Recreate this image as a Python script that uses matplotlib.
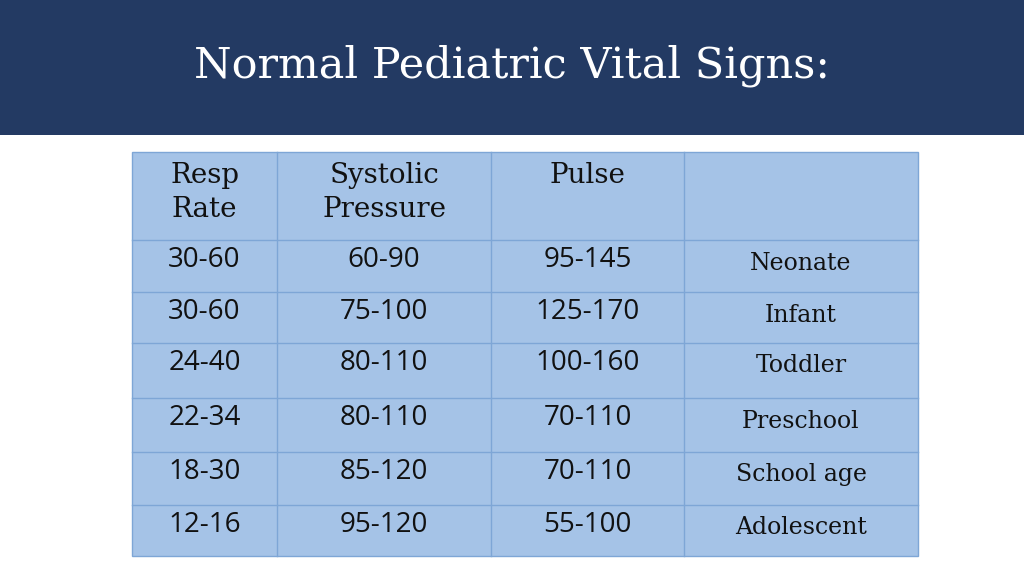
import matplotlib
matplotlib.use("Agg")
import matplotlib.pyplot as plt
from matplotlib.patches import Rectangle

title = "Normal Pediatric Vital Signs:"
headers = ["Resp\nRate", "Systolic\nPressure", "Pulse", ""]
resp = ["30-60", "30-60", "24-40", "22-34", "18-30", "12-16"]
systolic = ["60-90", "75-100", "80-110", "80-110", "85-120", "95-120"]
pulse = ["95-145", "125-170", "100-160", "70-110", "70-110", "55-100"]
groups = ["Neonate", "Infant", "Toddler", "Preschool", "School age", "Adolescent"]

col_edges = [132, 277, 491, 684, 918]
row_edges = [152, 240, 292, 343, 398, 452, 505, 556]

fig = plt.figure(figsize=(10.24, 5.75), dpi=100)
ax = fig.add_axes([0, 0, 1, 1])
ax.set_xlim(0, 1024); ax.set_ylim(575, 0); ax.axis("off")

ax.add_patch(Rectangle((0, 0), 1024, 135, color="#233A63", lw=0))
ax.text(512, 66, title, ha="center", va="center", color="white",
        fontsize=31, family="DejaVu Serif")

ax.add_patch(Rectangle((col_edges[0], row_edges[0]), col_edges[-1]-col_edges[0],
                       row_edges[-1]-row_edges[0], facecolor="#A5C3E7",
                       edgecolor="#7EA6D6", lw=1))
for x in col_edges[1:-1]:
    ax.plot([x, x], [row_edges[0], row_edges[-1]], color="#7EA6D6", lw=1)
for y in row_edges[1:-1]:
    ax.plot([col_edges[0], col_edges[-1]], [y, y], color="#7EA6D6", lw=1)

cx = [(col_edges[i]+col_edges[i+1])/2 for i in range(4)]
for i, h in enumerate(headers):
    ax.text(cx[i], 162, h, ha="center", va="top", fontsize=20,
            family="DejaVu Serif", color="#111111", linespacing=1.35)

cols = [resp, systolic, pulse]
for r in range(6):
    y0 = row_edges[r+1]
    for c in range(3):
        ax.text(cx[c], y0+20, cols[c][r], ha="center", va="center",
                fontsize=20, family="Open Sans", color="#111111")
    ax.text(cx[3], y0+23, groups[r], ha="center", va="center",
            fontsize=17, family="DejaVu Serif", color="#111111")

fig.savefig("out.png", dpi=100, facecolor="white")
